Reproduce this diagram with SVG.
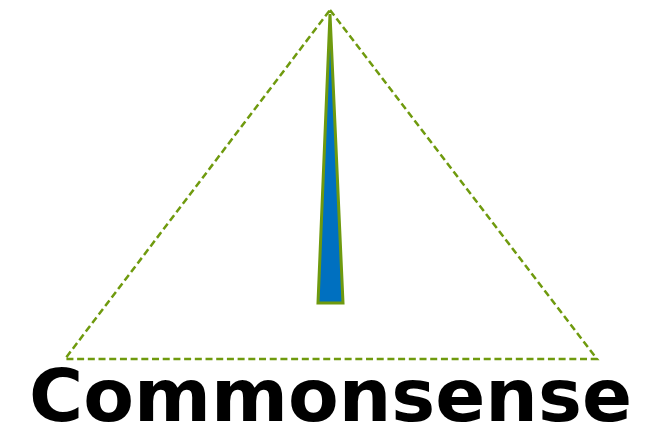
<svg xmlns="http://www.w3.org/2000/svg" width="659" height="426" viewBox="0 0 659 426">
<style>
.tri{fill:none;stroke:#6f9a0e;stroke-width:2.5;stroke-dasharray:7,3.7}
.wedge{fill:#0070c0;stroke:#6f9a0e;stroke-width:3}
.lbl{font-family:"DejaVu Sans",Verdana,sans-serif;font-weight:bold;font-size:73px;fill:#000}
</style>
<g id="triangle"><polygon class="tri" points="330,10 597,359 65,359"/></g>
<g id="wedge"><polygon class="wedge" points="330,14 343,303 318,303"/></g>
<g id="label"><text class="lbl" x="29" y="421" textLength="603" lengthAdjust="spacingAndGlyphs">Commonsense</text></g>
</svg>
